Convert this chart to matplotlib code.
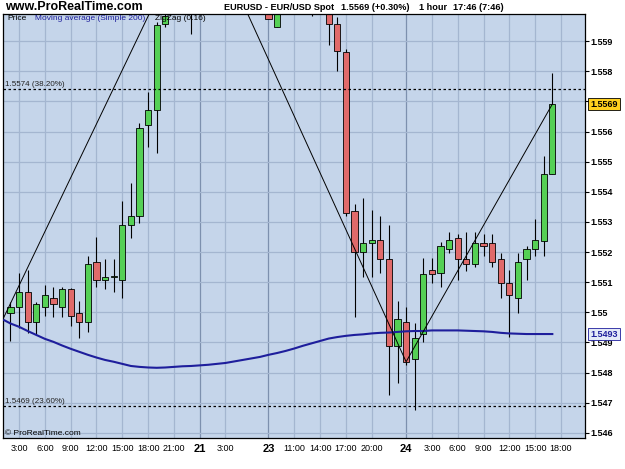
import matplotlib.pyplot as plt
import matplotlib.transforms as mtransforms
import numpy as np

plt.rcParams['font.family'] = ['Liberation Sans', 'DejaVu Sans']

# EUR/USD 1 hour candles, index 0 = 20th 2:00
opens = [1.54998, 1.55017, 1.55069, 1.54967, 1.55018, 1.55048, 1.55018, 1.55078, 1.54998, 1.54967,
         1.55166, 1.55108, 1.55116, 1.55108, 1.55290, 1.55321, 1.55621, 1.55671, 1.55958, 1.55995,
         1.5608, 1.5615, 1.5626, 1.5634, 1.5625, 1.5620, 1.5616, 1.5612, 1.5610, 1.5607,
         1.5604, 1.55946, 1.5603, 1.5609, 1.5605, 1.5603, 1.5601, 1.5603, 1.55958, 1.55864,
         1.55337, 1.55200, 1.55229, 1.55240, 1.55177, 1.54889, 1.54967, 1.54844, 1.54927, 1.55141,
         1.55130, 1.55209, 1.55248, 1.55177, 1.55160, 1.55229, 1.55229, 1.55177, 1.55097, 1.55047,
         1.55176, 1.55209, 1.55238, 1.55459]
highs = [1.55035, 1.55131, 1.55141, 1.55035, 1.55091, 1.55084, 1.55084, 1.55081, 1.55038, 1.55187,
         1.55249, 1.55177, 1.55177, 1.55371, 1.55429, 1.55629, 1.55732, 1.55963, 1.5601, 1.5612,
         1.5622, 1.5630, 1.5645, 1.5640, 1.5632, 1.5628, 1.5624, 1.5620, 1.5618, 1.5612,
         1.5608, 1.5610, 1.5612, 1.5615, 1.5610, 1.5608, 1.5607, 1.5606, 1.55980, 1.55874,
         1.55360, 1.55380, 1.55340, 1.55321, 1.55290, 1.55038, 1.55017, 1.54966, 1.55180, 1.55180,
         1.55234, 1.55268, 1.55259, 1.55268, 1.55268, 1.55259, 1.55259, 1.55196, 1.55141, 1.55198,
         1.55220, 1.55309, 1.55519, 1.55793]
lows = [1.54905, 1.54948, 1.54932, 1.54925, 1.54988, 1.54985, 1.54985, 1.54955, 1.54915, 1.54936,
        1.55085, 1.55078, 1.55068, 1.55047, 1.55247, 1.55298, 1.55550, 1.55530, 1.55946, 1.55992,
        1.5600, 1.55922, 1.5612, 1.5618, 1.5612, 1.5610, 1.5608, 1.5605, 1.5603, 1.5601,
        1.55973, 1.55946, 1.5600, 1.5602, 1.5600, 1.55985, 1.5600, 1.55888, 1.55801, 1.55320,
        1.54986, 1.55118, 1.55118, 1.55130, 1.54726, 1.54765, 1.54826, 1.54676, 1.54903, 1.55097,
        1.55085, 1.55198, 1.55108, 1.55138, 1.55150, 1.55187, 1.55150, 1.55047, 1.54919, 1.54997,
        1.55108, 1.55187, 1.55187, 1.55460]
closes = [1.55018, 1.55069, 1.54967, 1.55028, 1.55058, 1.55028, 1.55078, 1.54988, 1.54968, 1.55160,
          1.55108, 1.55118, 1.55120, 1.55290, 1.55321, 1.55611, 1.55671, 1.55953, 1.55983, 1.5608,
          1.5615, 1.5626, 1.5634, 1.5625, 1.5620, 1.5616, 1.5612, 1.5610, 1.5607, 1.5604,
          1.55973, 1.5603, 1.5609, 1.5605, 1.5603, 1.5601, 1.5603, 1.55958, 1.55867, 1.55329,
          1.55200, 1.55231, 1.55240, 1.55176, 1.54889, 1.54977, 1.54836, 1.54916, 1.55127, 1.55127,
          1.55220, 1.55240, 1.55177, 1.55160, 1.55229, 1.55220, 1.55168, 1.55097, 1.55058, 1.55168,
          1.55209, 1.55240, 1.55459, 1.55691]

# simple moving average 200, starting one bar before the first candle
ma_start = -1
ma_values = [1.54978,
             1.54963, 1.54952, 1.54938, 1.54925, 1.54912, 1.54902, 1.54890, 1.54879, 1.54869, 1.54859,
             1.54850, 1.54842, 1.54836, 1.54829, 1.54822, 1.54819, 1.54817, 1.54816, 1.54817, 1.54819,
             1.54821, 1.54822, 1.54824, 1.54826, 1.54829, 1.54832, 1.54837, 1.54842, 1.54847, 1.54852,
             1.54859, 1.54865, 1.54872, 1.54880, 1.54889, 1.54897, 1.54905, 1.54913, 1.54918, 1.54922,
             1.54925, 1.54927, 1.54930, 1.54932, 1.54933, 1.54935, 1.54937, 1.54938, 1.54938, 1.54940,
             1.54940, 1.54940, 1.54940, 1.54939, 1.54938, 1.54937, 1.54935, 1.54932, 1.54930, 1.54929,
             1.54928, 1.54928, 1.54928, 1.54928]

# zigzag pivots (0.16)
zz_idx = [-1, 22, 46, 63]
zz_price = [1.5497, 1.5634, 1.54836, 1.55691]

fib_levels = [1.5574, 1.5469]
fib_labels = ["1.5574 (38.20%)", "1.5469 (23.60%)"]

x_tick_pos = [1, 4, 7, 10, 13, 16, 19, 22, 25, 30, 33, 36, 39, 42, 46, 49, 52, 55, 58, 61, 64]
x_tick_labels = ["3:00", "6:00", "9:00", "12:00", "15:00", "18:00", "21:00", "21", "3:00", "23",
                 "11:00", "14:00", "17:00", "20:00", "24", "3:00", "6:00", "9:00", "12:00", "15:00", "18:00"]
day_pos = [22, 30, 46]
y_ticks = [1.546, 1.547, 1.548, 1.549, 1.550, 1.551, 1.552, 1.553, 1.554, 1.555, 1.556, 1.557, 1.558, 1.559]
hidden_tick = 1.557  # sits under the last-price box

BG = "#C5D5EA"
GRID = "#A4B6D0"
DAYGRID = "#7D90AE"
UP = "#55D055"
DOWN = "#E06A6A"

fig = plt.figure(figsize=(6.25, 4.69), dpi=100)
ax = fig.add_axes([3 / 625, 31 / 469, 582 / 625, 424 / 469])
ax.set_facecolor(BG)

x = np.arange(len(opens))
o = np.array(opens)
c = np.array(closes)
up = c >= o
cols = np.where(up, UP, DOWN)

# grid
for xp in x_tick_pos:
    ax.axvline(xp, color=DAYGRID if xp in day_pos else GRID, lw=0.9, zorder=0.5)
for yv in y_ticks:
    ax.axhline(yv, color=GRID, lw=0.9, zorder=0.5)

# candles
ax.vlines(x, lows, highs, color="black", lw=0.8, zorder=1)
ax.bar(x, np.maximum(np.abs(c - o), 0.00002), bottom=np.minimum(o, c), width=0.72,
       color=cols, edgecolor="black", linewidth=0.6, zorder=2)

# moving average + zigzag
ma_x = np.arange(ma_start, ma_start + len(ma_values))
ax.plot(ma_x, ma_values, color="#1E1E9C", lw=1.5, zorder=3)
ax.plot(zz_idx, zz_price, color="black", lw=0.7, zorder=3)

trans = mtransforms.blended_transform_factory(ax.transAxes, ax.transData)

# fibonacci levels
for lvl, lab in zip(fib_levels, fib_labels):
    ax.axhline(lvl, color="black", lw=0.9, ls=(0, (2, 2)), zorder=2.5)
    ax.text(0.004, lvl + 0.00004, lab, transform=trans,
            fontsize=5.8, va="bottom", ha="left", color="#222222")

ax.set_xlim(-0.87, 66.8)
ax.set_ylim(1.54583, 1.55990)

ax.set_xticks(x_tick_pos)
ax.set_xticklabels(x_tick_labels)
ax.tick_params(axis="x", length=0, pad=4, labelsize=6.5)
for lab, txt in zip(ax.get_xticklabels(), x_tick_labels):
    if ":" not in txt:
        lab.set_fontsize(8)
        lab.set_fontweight("bold")

ax.yaxis.tick_right()
ax.set_yticks(y_ticks)
ax.set_yticklabels(["" if v == hidden_tick else f"{v:g}" for v in y_ticks])
ax.tick_params(axis="y", length=3, width=0.8, pad=1, labelsize=6.5)
for lab in ax.get_yticklabels():
    lab.set_fontweight("bold")

for sp in ax.spines.values():
    sp.set_color("black")
    sp.set_linewidth(0.9)

ax.text(1.009, closes[-1], f"{closes[-1]:.4f}", transform=trans, fontsize=6.5, fontweight="bold",
        va="center", ha="left", zorder=5,
        bbox=dict(boxstyle="square,pad=0.2", fc="#FFD01E", ec="black", lw=0.6))
ax.text(1.009, ma_values[-1], f"{ma_values[-1]:.4f}", transform=trans, fontsize=6.5, fontweight="bold",
        color="#1E1E9C", va="center", ha="left", zorder=5,
        bbox=dict(boxstyle="square,pad=0.2", fc="#E4EAF8", ec="#1E1E9C", lw=0.6))

# legend line inside the chart
ax.text(0.007, 0.997, "Price", transform=ax.transAxes, fontsize=6, va="top", ha="left")
ax.text(0.055, 0.997, "Moving average (Simple 200)", transform=ax.transAxes, fontsize=6,
        va="top", ha="left", color="#1E1E9C")
ax.text(0.261, 0.997, "ZigZag (0.16)", transform=ax.transAxes, fontsize=6, va="top", ha="left")
ax.text(0.003, 0.003, "\u00a9 ProRealTime.com", transform=ax.transAxes, fontsize=6, va="bottom", ha="left")

# header
fig.text(5 / 625, 1 - 7 / 469, "www.ProRealTime.com", fontsize=9, fontweight="bold", va="center")
fig.text(224 / 625, 1 - 7 / 469, "EURUSD - EUR/USD Spot", fontsize=6.6, fontweight="bold", va="center")
fig.text(341 / 625, 1 - 7 / 469, "1.5569 (+0.30%)", fontsize=6.6, fontweight="bold", va="center")
fig.text(419 / 625, 1 - 7 / 469, "1 hour", fontsize=6.6, fontweight="bold", va="center")
fig.text(453 / 625, 1 - 7 / 469, "17:46 (7:46)", fontsize=6.6, fontweight="bold", va="center")

fig.savefig("out.png", dpi=100, facecolor="white")
